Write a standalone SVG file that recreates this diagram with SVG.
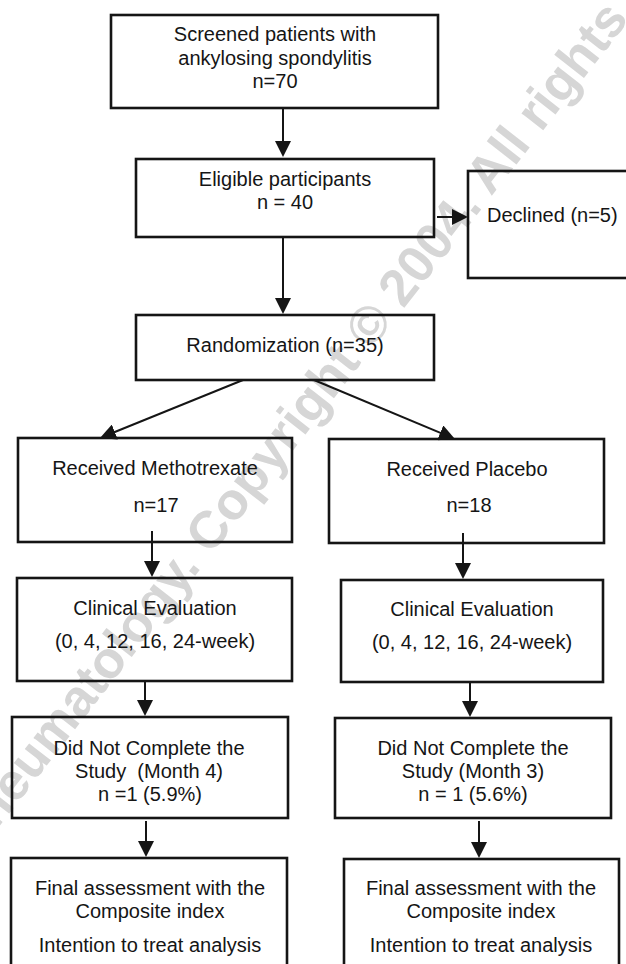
<svg xmlns="http://www.w3.org/2000/svg" width="626" height="964" viewBox="0 0 626 964">
<style>
.box{fill:none;stroke:#151515;stroke-width:2.6}
.t{font-family:"Liberation Sans",Arial,sans-serif;font-size:20px;fill:#151515;text-anchor:middle}
.c line{stroke:#151515;stroke-width:2;marker-end:url(#ah)}
.wm{font-family:"Liberation Sans",Arial,sans-serif;font-size:52px;font-weight:bold;fill:#d6d6d6}
</style>
<defs>
<marker id="ah" markerUnits="userSpaceOnUse" markerWidth="16" markerHeight="16" refX="8" refY="8" orient="auto" viewBox="0 0 16 16">
<path d="M0,0 L16,8 L0,16 Z" fill="#151515"/>
</marker>
</defs>
<rect width="626" height="964" fill="#ffffff"/>
<text class="wm" x="-27" y="860" transform="rotate(-52 -27 860)">Rheumatology. Copyright © 2004. All rights reserved.</text>

<g id="screened">
<rect class="box" x="111" y="15" width="327" height="93"/>
<text class="t" x="275" y="41">Screened patients with</text>
<text class="t" x="275" y="64.5">ankylosing spondylitis</text>
<text class="t" x="275" y="88">n=70</text>
</g>
<g id="eligible">
<rect class="box" x="136" y="159" width="298" height="78"/>
<text class="t" x="285" y="185.5">Eligible participants</text>
<text class="t" x="285" y="209">n = 40</text>
</g>
<g id="declined">
<rect class="box" x="468" y="171" width="200" height="107"/>
<text class="t" x="487" y="222" style="text-anchor:start">Declined (n=5)</text>
</g>
<g id="randomization">
<rect class="box" x="136" y="315" width="298" height="65"/>
<text class="t" x="285" y="352">Randomization (n=35)</text>
</g>
<g id="methotrexate">
<rect class="box" x="18" y="438" width="274" height="104"/>
<text class="t" x="155" y="475">Received Methotrexate</text>
<text class="t" x="156" y="512">n=17</text>
</g>
<g id="placebo">
<rect class="box" x="329" y="439" width="275" height="104"/>
<text class="t" x="467" y="476">Received Placebo</text>
<text class="t" x="469" y="512">n=18</text>
</g>
<g id="clinical-left">
<rect class="box" x="17" y="578" width="275" height="103"/>
<text class="t" x="155" y="615">Clinical Evaluation</text>
<text class="t" x="155" y="648">(0, 4, 12, 16, 24-week)</text>
</g>
<g id="clinical-right">
<rect class="box" x="341" y="580" width="262" height="102"/>
<text class="t" x="472" y="616">Clinical Evaluation</text>
<text class="t" x="472" y="649">(0, 4, 12, 16, 24-week)</text>
</g>
<g id="dnc-left">
<rect class="box" x="12" y="717" width="276" height="101"/>
<text class="t" x="149" y="755">Did Not Complete the</text>
<text class="t" x="149" y="778" xml:space="preserve">Study  (Month 4)</text>
<text class="t" x="150" y="801">n =1 (5.9%)</text>
</g>
<g id="dnc-right">
<rect class="box" x="335" y="718" width="276" height="100"/>
<text class="t" x="473" y="755">Did Not Complete the</text>
<text class="t" x="473" y="778">Study (Month 3)</text>
<text class="t" x="473" y="801">n = 1 (5.6%)</text>
</g>
<g id="final-left">
<rect class="box" x="11" y="858" width="276" height="130"/>
<text class="t" x="150" y="895">Final assessment with the</text>
<text class="t" x="150" y="918">Composite index</text>
<text class="t" x="150" y="952">Intention to treat analysis</text>
</g>
<g id="final-right">
<rect class="box" x="344" y="859" width="275" height="130"/>
<text class="t" x="481" y="895">Final assessment with the</text>
<text class="t" x="481" y="918">Composite index</text>
<text class="t" x="481" y="952">Intention to treat analysis</text>
</g>

<g id="connectors" class="c">
<line x1="283" y1="108" x2="283" y2="149"/>
<line x1="437" y1="217" x2="460" y2="217"/>
<line x1="283" y1="237" x2="283" y2="306"/>
<line x1="243" y1="380" x2="107.4" y2="435"/>
<line x1="314" y1="380" x2="447.6" y2="435.9"/>
<line x1="152" y1="531" x2="152" y2="569"/>
<line x1="463" y1="533" x2="463" y2="571"/>
<line x1="145" y1="681" x2="145" y2="708"/>
<line x1="470" y1="682" x2="470" y2="709"/>
<line x1="146" y1="821" x2="146" y2="849"/>
<line x1="479" y1="821" x2="479" y2="850"/>
</g>
</svg>
